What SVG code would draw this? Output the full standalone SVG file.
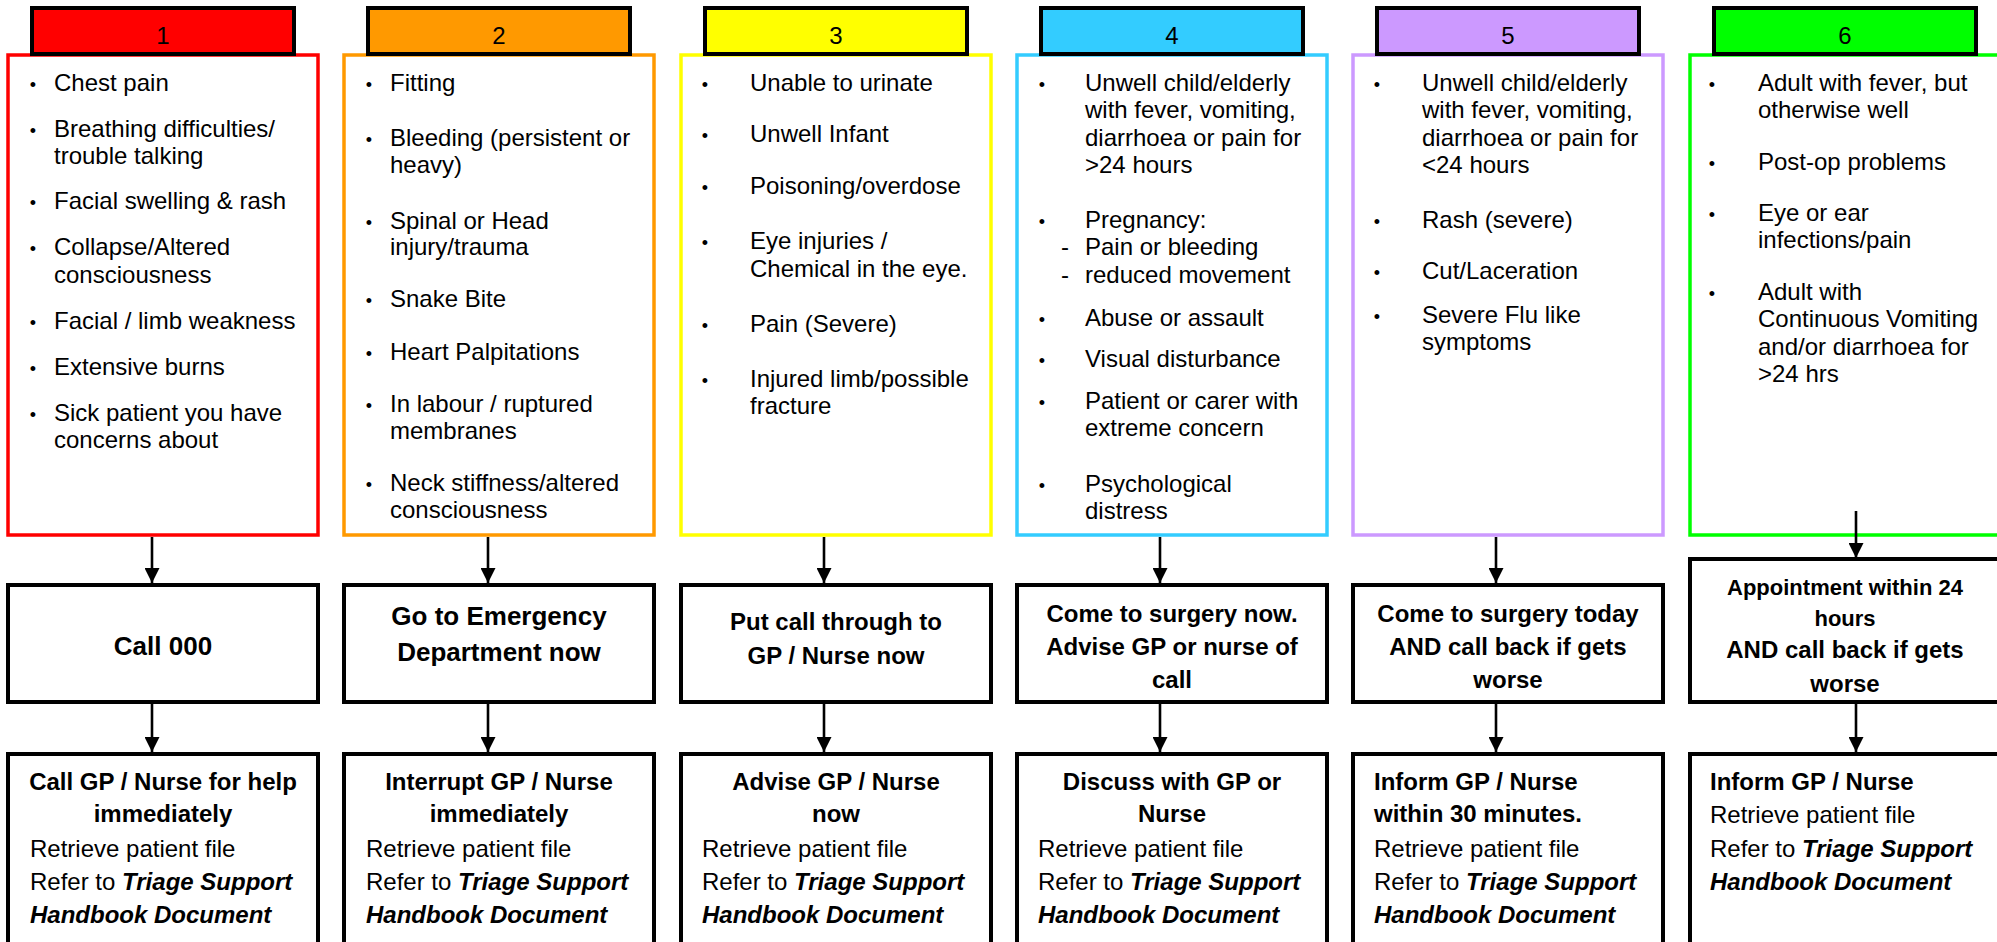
<svg xmlns="http://www.w3.org/2000/svg" width="1997" height="942" viewBox="0 0 1997 942">
<style>
text{font-family:"Liberation Sans",Arial,sans-serif;fill:#000}
.it{font-size:24px}
.bu{font-size:18px;text-anchor:middle}
.dash{font-size:24px;text-anchor:middle}
.num{font-size:24px;text-anchor:middle;font-family:"Liberation Sans Narrow","Liberation Sans",sans-serif}
.act{font-size:24px;font-weight:bold;text-anchor:middle}
.act26{font-size:26px;font-weight:bold;text-anchor:middle}
.act22{font-size:22px;font-weight:bold;text-anchor:middle}
.ft{font-size:24px}
.b{font-weight:bold}
.bi{font-weight:bold;font-style:italic}
.c{text-anchor:middle}
.hdr{stroke:#000;stroke-width:4}
.col{fill:#fff;stroke-width:3.5}
.box{fill:#fff;stroke:#000;stroke-width:4}
.conn{stroke:#000;stroke-width:2.6;fill:none}
</style>
<defs>
<marker id="ah" markerUnits="userSpaceOnUse" markerWidth="15" markerHeight="15" refX="15" refY="7.5" orient="auto">
<path d="M0,0 L15,7.5 L0,15 z" fill="#000"/>
</marker>
</defs>

<g id="col1">
<rect class="col" x="8" y="55" width="310" height="480" stroke="#FF0000"/>
<rect class="hdr" x="32" y="8" width="262" height="46" fill="#FF0000"/>
<text class="num" x="163" y="44">1</text>
<text class="bu" x="33" y="91">•</text><text class="it" x="54" y="91">Chest pain</text>
<text class="bu" x="33" y="137">•</text><text class="it" x="54" y="137">Breathing difficulties/</text><text class="it" x="54" y="164">trouble talking</text>
<text class="bu" x="33" y="209">•</text><text class="it" x="54" y="209">Facial swelling &amp; rash</text>
<text class="bu" x="33" y="255">•</text><text class="it" x="54" y="255">Collapse/Altered</text><text class="it" x="54" y="283">consciousness</text>
<text class="bu" x="33" y="329">•</text><text class="it" x="54" y="329">Facial / limb weakness</text>
<text class="bu" x="33" y="375">•</text><text class="it" x="54" y="375">Extensive burns</text>
<text class="bu" x="33" y="421">•</text><text class="it" x="54" y="421">Sick patient you have</text><text class="it" x="54" y="448">concerns about</text>
</g>

<g id="col2">
<rect class="col" x="344" y="55" width="310" height="480" stroke="#FF9900"/>
<rect class="hdr" x="368" y="8" width="262" height="46" fill="#FF9900"/>
<text class="num" x="499" y="44">2</text>
<text class="bu" x="369" y="91">•</text><text class="it" x="390" y="91">Fitting</text>
<text class="bu" x="369" y="146">•</text><text class="it" x="390" y="146">Bleeding (persistent or</text><text class="it" x="390" y="173">heavy)</text>
<text class="bu" x="369" y="229">•</text><text class="it" x="390" y="229">Spinal or Head</text><text class="it" x="390" y="255">injury/trauma</text>
<text class="bu" x="369" y="307">•</text><text class="it" x="390" y="307">Snake Bite</text>
<text class="bu" x="369" y="360">•</text><text class="it" x="390" y="360">Heart Palpitations</text>
<text class="bu" x="369" y="412">•</text><text class="it" x="390" y="412">In labour / ruptured</text><text class="it" x="390" y="439">membranes</text>
<text class="bu" x="369" y="491">•</text><text class="it" x="390" y="491">Neck stiffness/altered</text><text class="it" x="390" y="518">consciousness</text>
</g>

<g id="col3">
<rect class="col" x="681" y="55" width="310" height="480" stroke="#FFFF00"/>
<rect class="hdr" x="705" y="8" width="262" height="46" fill="#FFFF00"/>
<text class="num" x="836" y="44">3</text>
<text class="bu" x="705" y="91">•</text><text class="it" x="750" y="91">Unable to urinate</text>
<text class="bu" x="705" y="142">•</text><text class="it" x="750" y="142">Unwell Infant</text>
<text class="bu" x="705" y="194">•</text><text class="it" x="750" y="194">Poisoning/overdose</text>
<text class="bu" x="705" y="249">•</text><text class="it" x="750" y="249">Eye injuries /</text><text class="it" x="750" y="277">Chemical in the eye.</text>
<text class="bu" x="705" y="332">•</text><text class="it" x="750" y="332">Pain (Severe)</text>
<text class="bu" x="705" y="387">•</text><text class="it" x="750" y="387">Injured limb/possible</text><text class="it" x="750" y="414">fracture</text>
</g>

<g id="col4">
<rect class="col" x="1017" y="55" width="310" height="480" stroke="#33CCFF"/>
<rect class="hdr" x="1041" y="8" width="262" height="46" fill="#33CCFF"/>
<text class="num" x="1172" y="44">4</text>
<text class="bu" x="1042" y="91">•</text><text class="it" x="1085" y="91">Unwell child/elderly</text><text class="it" x="1085" y="118">with fever, vomiting,</text><text class="it" x="1085" y="146">diarrhoea or pain for</text><text class="it" x="1085" y="173">&gt;24 hours</text>
<text class="bu" x="1042" y="228">•</text><text class="it" x="1085" y="228">Pregnancy:</text>
<text class="dash" x="1065" y="255">-</text><text class="it" x="1085" y="255">Pain or bleeding</text>
<text class="dash" x="1065" y="283">-</text><text class="it" x="1085" y="283">reduced movement</text>
<text class="bu" x="1042" y="326">•</text><text class="it" x="1085" y="326">Abuse or assault</text>
<text class="bu" x="1042" y="367">•</text><text class="it" x="1085" y="367">Visual disturbance</text>
<text class="bu" x="1042" y="409">•</text><text class="it" x="1085" y="409">Patient or carer with</text><text class="it" x="1085" y="436">extreme concern</text>
<text class="bu" x="1042" y="492">•</text><text class="it" x="1085" y="492">Psychological</text><text class="it" x="1085" y="519">distress</text>
</g>

<g id="col5">
<rect class="col" x="1353" y="55" width="310" height="480" stroke="#CC99FF"/>
<rect class="hdr" x="1377" y="8" width="262" height="46" fill="#CC99FF"/>
<text class="num" x="1508" y="44">5</text>
<text class="bu" x="1377" y="91">•</text><text class="it" x="1422" y="91">Unwell child/elderly</text><text class="it" x="1422" y="118">with fever, vomiting,</text><text class="it" x="1422" y="146">diarrhoea or pain for</text><text class="it" x="1422" y="173">&lt;24 hours</text>
<text class="bu" x="1377" y="228">•</text><text class="it" x="1422" y="228">Rash (severe)</text>
<text class="bu" x="1377" y="279">•</text><text class="it" x="1422" y="279">Cut/Laceration</text>
<text class="bu" x="1377" y="323">•</text><text class="it" x="1422" y="323">Severe Flu like</text><text class="it" x="1422" y="350">symptoms</text>
</g>

<g id="col6">
<rect class="col" x="1690" y="55" width="310" height="480" stroke="#00FF00"/>
<rect class="hdr" x="1714" y="8" width="262" height="46" fill="#00FF00"/>
<text class="num" x="1845" y="44">6</text>
<text class="bu" x="1712" y="91">•</text><text class="it" x="1758" y="91">Adult with fever, but</text><text class="it" x="1758" y="118">otherwise well</text>
<text class="bu" x="1712" y="170">•</text><text class="it" x="1758" y="170">Post-op problems</text>
<text class="bu" x="1712" y="221">•</text><text class="it" x="1758" y="221">Eye or ear</text><text class="it" x="1758" y="248">infections/pain</text>
<text class="bu" x="1712" y="300">•</text><text class="it" x="1758" y="300">Adult with</text><text class="it" x="1758" y="327">Continuous Vomiting</text><text class="it" x="1758" y="355">and/or diarrhoea for</text><text class="it" x="1758" y="382">&gt;24 hrs</text>
</g>

<g id="act1"><rect class="box" x="8" y="585" width="310" height="117"/>
<text class="act26" x="163" y="655">Call 000</text></g>
<g id="act2"><rect class="box" x="344" y="585" width="310" height="117"/>
<text class="act26" x="499" y="625">Go to Emergency</text><text class="act26" x="499" y="661">Department now</text></g>
<g id="act3"><rect class="box" x="681" y="585" width="310" height="117"/>
<text class="act" x="836" y="630">Put call through to</text><text class="act" x="836" y="664">GP / Nurse now</text></g>
<g id="act4"><rect class="box" x="1017" y="585" width="310" height="117"/>
<text class="act" x="1172" y="622">Come to surgery now.</text><text class="act" x="1172" y="655">Advise GP or nurse of</text><text class="act" x="1172" y="688">call</text></g>
<g id="act5"><rect class="box" x="1353" y="585" width="310" height="117"/>
<text class="act" x="1508" y="622">Come to surgery today</text><text class="act" x="1508" y="655">AND call back if gets</text><text class="act" x="1508" y="688">worse</text></g>
<g id="act6"><rect class="box" x="1690" y="559" width="310" height="143"/>
<text class="act22" x="1845" y="595">Appointment within 24</text><text class="act22" x="1845" y="626">hours</text><text class="act" x="1845" y="658">AND call back if gets</text><text class="act" x="1845" y="692">worse</text></g>

<g id="fin1"><rect class="box" x="8" y="754" width="310" height="260"/>
<text class="ft b c" x="163" y="790">Call GP / Nurse for help</text><text class="ft b c" x="163" y="822">immediately</text>
<text class="ft" x="30" y="857">Retrieve patient file</text>
<text class="ft" x="30" y="890">Refer to <tspan class="bi">Triage Support</tspan></text>
<text class="ft bi" x="30" y="923">Handbook Document</text></g>
<g id="fin2"><rect class="box" x="344" y="754" width="310" height="260"/>
<text class="ft b c" x="499" y="790">Interrupt GP / Nurse</text><text class="ft b c" x="499" y="822">immediately</text>
<text class="ft" x="366" y="857">Retrieve patient file</text>
<text class="ft" x="366" y="890">Refer to <tspan class="bi">Triage Support</tspan></text>
<text class="ft bi" x="366" y="923">Handbook Document</text></g>
<g id="fin3"><rect class="box" x="681" y="754" width="310" height="260"/>
<text class="ft b c" x="836" y="790">Advise GP / Nurse</text><text class="ft b c" x="836" y="822">now</text>
<text class="ft" x="702" y="857">Retrieve patient file</text>
<text class="ft" x="702" y="890">Refer to <tspan class="bi">Triage Support</tspan></text>
<text class="ft bi" x="702" y="923">Handbook Document</text></g>
<g id="fin4"><rect class="box" x="1017" y="754" width="310" height="260"/>
<text class="ft b c" x="1172" y="790">Discuss with GP or</text><text class="ft b c" x="1172" y="822">Nurse</text>
<text class="ft" x="1038" y="857">Retrieve patient file</text>
<text class="ft" x="1038" y="890">Refer to <tspan class="bi">Triage Support</tspan></text>
<text class="ft bi" x="1038" y="923">Handbook Document</text></g>
<g id="fin5"><rect class="box" x="1353" y="754" width="310" height="260"/>
<text class="ft b" x="1374" y="790">Inform GP / Nurse</text><text class="ft b" x="1374" y="822">within 30 minutes.</text>
<text class="ft" x="1374" y="857">Retrieve patient file</text>
<text class="ft" x="1374" y="890">Refer to <tspan class="bi">Triage Support</tspan></text>
<text class="ft bi" x="1374" y="923">Handbook Document</text></g>
<g id="fin6"><rect class="box" x="1690" y="754" width="310" height="260"/>
<text class="ft b" x="1710" y="790">Inform GP / Nurse</text>
<text class="ft" x="1710" y="823">Retrieve patient file</text>
<text class="ft" x="1710" y="857">Refer to <tspan class="bi">Triage Support</tspan></text>
<text class="ft bi" x="1710" y="890">Handbook Document</text></g>

<g id="connectors">
<path class="conn" marker-end="url(#ah)" d="M152,537 V583"/>
<path class="conn" marker-end="url(#ah)" d="M488,537 V583"/>
<path class="conn" marker-end="url(#ah)" d="M824,537 V583"/>
<path class="conn" marker-end="url(#ah)" d="M1160,537 V583"/>
<path class="conn" marker-end="url(#ah)" d="M1496,537 V583"/>
<path class="conn" marker-end="url(#ah)" d="M1856,511 V558"/>
<path class="conn" marker-end="url(#ah)" d="M152,704 V752"/>
<path class="conn" marker-end="url(#ah)" d="M488,704 V752"/>
<path class="conn" marker-end="url(#ah)" d="M824,704 V752"/>
<path class="conn" marker-end="url(#ah)" d="M1160,704 V752"/>
<path class="conn" marker-end="url(#ah)" d="M1496,704 V752"/>
<path class="conn" marker-end="url(#ah)" d="M1856,704 V752"/>
</g>
</svg>
